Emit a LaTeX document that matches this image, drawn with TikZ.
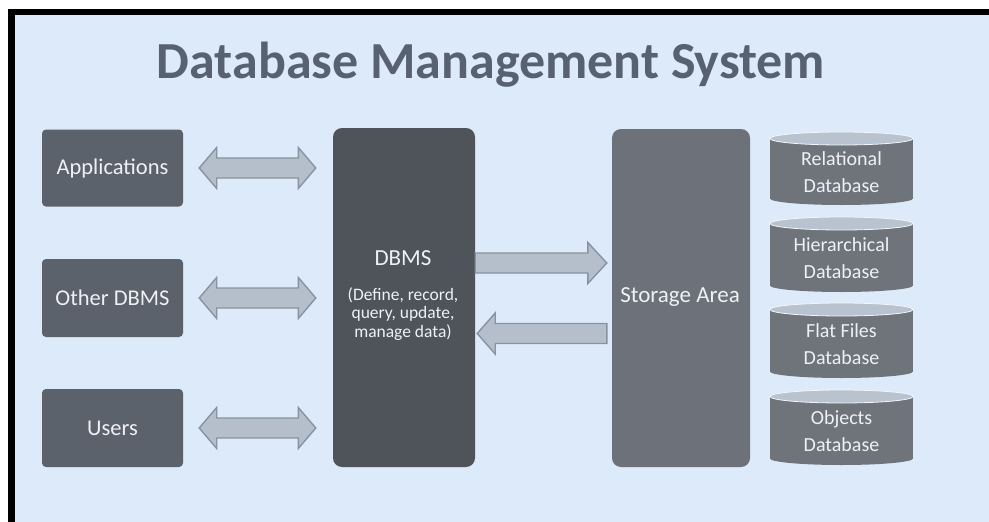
\documentclass[tikz,border=0pt]{standalone}
\usepackage{fontspec}
\setmainfont{Carlito}
\usetikzlibrary{calc}

\definecolor{pagebg}{HTML}{DCEAFA}
\definecolor{titlegray}{HTML}{586170}
\definecolor{sidebox}{HTML}{5C626C}
\definecolor{corebox}{HTML}{4F535A}
\definecolor{storebox}{HTML}{6D7179}
\definecolor{cylbody}{HTML}{6F747B}
\definecolor{cyltop}{HTML}{B9C3CF}
\definecolor{arrowfill}{HTML}{B5BFCB}
\definecolor{arrowline}{HTML}{8893A0}
\definecolor{boxtext}{HTML}{EEF1F4}

\tikzset{
  sidenode/.style={fill=sidebox, rounded corners=4pt, minimum width=141pt,
    minimum height=77pt, text=boxtext, font=\fontsize{22.5}{26}\selectfont, inner sep=0pt},
  bignode/.style={rounded corners=9pt, minimum width=142pt, minimum height=339pt,
    text=boxtext, inner sep=0pt, align=center},
  arrowbody/.style={fill=arrowfill, draw=arrowline, line width=1.4pt, line join=miter},
  cyllabel/.style={text=boxtext, align=center, font=\fontsize{20}{27}\selectfont, inner sep=0pt},
}

% one database drum: body, bottom bulge and lighter lid
\newcommand{\drum}[3]{% #1 centre x, #2 top y, #3 bottom y
  \fill[cylbody] (#1-71.5,#2+6.5) rectangle (#1+71.5,#3-6.5);
  \fill[cylbody] (#1,#3-6.5) ellipse [x radius=71.5pt, y radius=6.5pt];
  \fill[cyltop, draw=white!85!cyltop, line width=0.8pt] (#1,#2+6.5) ellipse [x radius=71.5pt, y radius=6.5pt];
}

% horizontal block arrow with a head at both ends, between two named points
\newcommand{\twoway}[2]{%
  \path let \p1=(#1), \p2=(#2) in [arrowbody]
    (\x1,\y1) -- (\x1+17.5pt,\y1+20.5pt) -- (\x1+17.5pt,\y1+10pt)
    -- (\x2-17.5pt,\y1+10pt) -- (\x2-17.5pt,\y1+20.5pt) -- (\x2,\y1)
    -- (\x2-17.5pt,\y1-20.5pt) -- (\x2-17.5pt,\y1-10pt)
    -- (\x1+17.5pt,\y1-10pt) -- (\x1+17.5pt,\y1-20.5pt) -- cycle;
}

% horizontal block arrow from tail #1 to tip #2; #3 = signed head length
\newcommand{\oneway}[3]{%
  \path let \p1=(#1), \p2=(#2) in [arrowbody]
    (\x1,\y1+10pt) -- (\x2-#3,\y1+10pt) -- (\x2-#3,\y1+20.5pt) -- (\x2,\y1)
    -- (\x2-#3,\y1-20.5pt) -- (\x2-#3,\y1-10pt) -- (\x1,\y1-10pt) -- cycle;
}

\begin{document}
\begin{tikzpicture}[x=1pt,y=-1pt]
\useasboundingbox (0,0) rectangle (989,522);
\fill[white] (0,0) rectangle (989,522);
\fill[black] (8,9) rectangle (989,522);
\fill[pagebg] (15,15) rectangle (989,522);

% heading
\node[text=titlegray, font=\bfseries\fontsize{52}{60}\selectfont, anchor=base] (title) at (491,78) {Database Management System};

% clients on the left
\node[sidenode] (app) at (112.5,168) {Applications};
\node[sidenode, minimum height=78pt] (oth) at (112.5,298) {Other DBMS};
\node[sidenode, minimum height=78pt] (usr) at (112.5,428) {Users};

% the DBMS itself
\node[bignode, fill=corebox] (dbms) at (404,297.5) {};
\node[text=boxtext, font=\fontsize{23}{26}\selectfont, anchor=base] (dbmsname) at (403,265) {DBMS};
\node[text=boxtext, font=\fontsize{17.5}{18.5}\selectfont, align=center, anchor=north] (dbmsjob) at (403,284)
  {(Define, record,\\query, update,\\manage data)};

% storage
\node[bignode, fill=storebox, minimum width=138pt, minimum height=338pt] (stor) at (681,298) {};
\node[text=boxtext, font=\fontsize{23}{26}\selectfont] (storname) at (680,297) {Storage Area};

% database drums
\drum{841.5}{132}{205}
\drum{841.5}{217}{292}
\drum{841.5}{303}{378}
\drum{841.5}{390}{465}
\node[cyllabel] (rel) at (841.5,172) {Relational\\Database};
\node[cyllabel] (hie) at (841.5,258) {Hierarchical\\Database};
\node[cyllabel] (fla) at (841.5,344) {Flat Files\\Database};
\node[cyllabel] (obj) at (841.5,431) {Objects\\Database};

% two-way links between clients and the DBMS
\foreach \src in {app,oth,usr}{
  \coordinate (\src-l) at ($(\src.east)+(16,0)$);
  \coordinate (\src-r) at ($(\src.east -| dbms.west)+(-17,0)$);
  \twoway{\src-l}{\src-r}
}

% DBMS <-> storage
\coordinate (wr) at ($(dbms.east)+(0,-34.5)$);
\coordinate (wrtip) at ($(wr -| stor.west)+(-5,0)$);
\oneway{wr}{wrtip}{19pt}
\coordinate (rd) at ($(stor.west)+(-5,35.5)$);
\coordinate (rdtip) at ($(rd -| dbms.east)+(2,0)$);
\oneway{rd}{rdtip}{-18pt}
\end{tikzpicture}
\end{document}
